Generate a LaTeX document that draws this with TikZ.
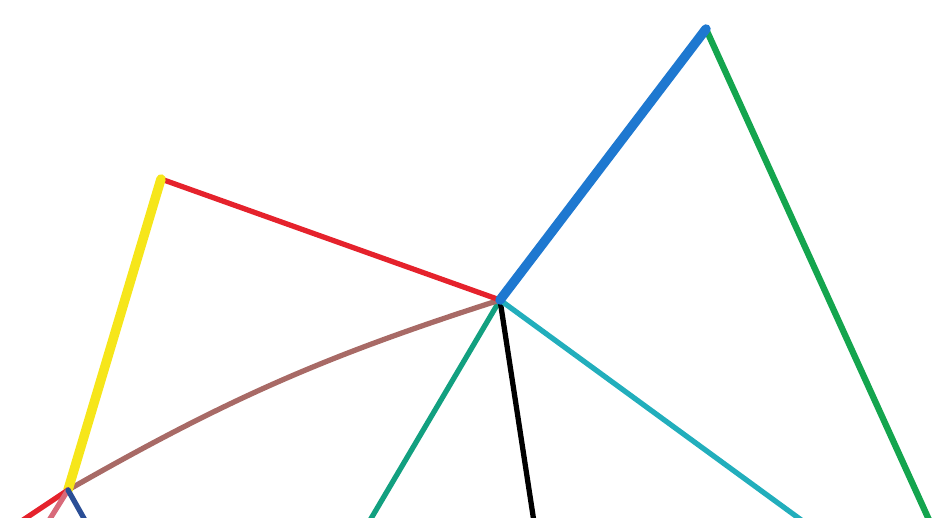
\documentclass[tikz,border=0pt]{standalone}
\usepackage{tikz}
\usetikzlibrary{calc}
\usepackage{xcolor}

\definecolor{crRed}{HTML}{E5222C}
\definecolor{crYellow}{HTML}{F6E61A}
\definecolor{crBlue}{HTML}{1E78D0}
\definecolor{crNavy}{HTML}{2A4E96}
\definecolor{crGreen}{HTML}{14A54E}
\definecolor{crTeal}{HTML}{12A080}
\definecolor{crCyan}{HTML}{22AEBC}
\definecolor{crBrown}{HTML}{A86A66}
\definecolor{crPink}{HTML}{D86A7A}

\tikzset{
    crayon/.style={line width=3pt, line cap=round, line join=round},
    fatcrayon/.style={line width=5.4pt, line cap=round, line join=round}
}

\begin{document}
\begin{tikzpicture}[x=0.02cm, y=-0.02cm]

    % 1. Frame of the sheet (pixel units, y downwards)
    \useasboundingbox (0,0) rectangle (938,518);
    \clip (0,0) rectangle (938,518);

    % 2. The corner points
    \coordinate (T) at (706, 29);   % top apex
    \coordinate (H) at (500, 300);  % central hub
    \coordinate (Y) at (161, 179);  % top of the yellow stroke
    \coordinate (L) at (68, 490);   % lower left hub

    % 3. Free ends on the lower edge
    \coordinate (G) at (930, 522);
    \coordinate (E) at (369, 522);
    \coordinate (K) at (534, 522);
    \coordinate (C) at (804, 522);
    \coordinate (R) at (20, 522);
    \coordinate (P) at (48, 522);
    \coordinate (N) at (86, 522);

    % 4. Strokes leaving the hub downwards
    \draw[crayon, crTeal] (H) -- (E);
    \draw[crayon, black] (H) -- (K);
    \draw[crayon, crCyan] (H) -- (C);

    % 5. The left part
    \draw[crayon, crBrown] (L) to[bend left=6] (H);
    \draw[crayon, crRed] (Y) -- (H);
    \draw[fatcrayon, crYellow] (L) -- (Y);

    % 6. Strokes below the lower left hub
    \draw[crayon, crRed] (L) -- (R);
    \draw[crayon, crPink] (L) -- (P);
    \draw[crayon, crNavy] (L) -- (N);

    % 7. The big peak on the right
    \draw[crayon, crGreen, line width=3.6pt] (T) -- (G);
    \draw[fatcrayon, crBlue] (H) -- (T);

\end{tikzpicture}
\end{document}
